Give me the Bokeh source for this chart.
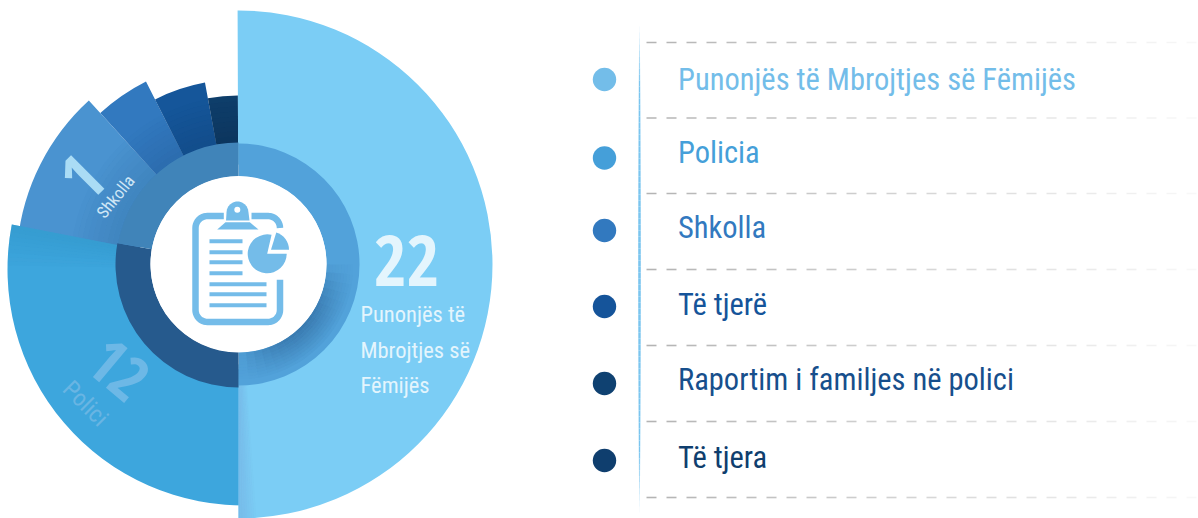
import numpy as np
from bokeh.plotting import figure
from bokeh.models import Range1d
from bokeh.core.properties import value
from bokeh.embed import file_html
from bokeh.resources import INLINE

# --- data
categories = ["Punonjës të Mbrojtjes së Fëmijës", "Policia", "Shkolla", "Të tjerë",
              "Raportim i familjes në polici", "Të tjera"]
slice_values = [22, 12.2, 4.6, 1.9, 2.0, 1.25]
slice_colors = ["#7bcdf5", "#3da6dd", "#4a93d0", "#3279bf", "#15569a", "#0f3f6c"]
shade_colors = ["#3c7fb8", "#2a68a8", "#124a86", "#0b3259"]
legend_colors = ["#73bde9", "#459fd9", "#3279bf", "#15549a", "#0f4171", "#0f3e6e"]
text_colors = ["#73bde9", "#459fd9", "#3279bf", "#15549a", "#174f8c", "#0f3e6e"]
legend_dot_y = [79, 157.5, 230, 306, 383, 460]
legend_text_y = [79, 152, 227, 304, 379, 457]
legend_rule_y = [42, 117.5, 193, 269, 345, 421, 497]
slice_radius = [254, 236, 222, 205, 185, 169]

FONT = value("Roboto Condensed")
BOLD = value("Open Sans Condensed")
CX, CY = 238, 264
deg = np.pi / 180

p = figure(width=1198, height=518, x_range=Range1d(0, 1198), y_range=Range1d(518, 0),
           output_backend="svg", toolbar_location=None, min_border=0,
           background_fill_color="white", border_fill_color="white")
p.axis.visible = False
p.grid.visible = False
p.outline_line_color = None

total = sum(slice_values)
sweeps = [v / total * 2 * np.pi for v in slice_values]
big = (-np.pi / 2, -np.pi / 2 + sweeps[0])
bounds = []
a2 = -np.pi / 2
for s in sweeps[1:]:
    bounds.append((a2 - s, a2))
    a2 -= s

# smaller slices (drawn in order, each with darkening toward the inner ring)
for i, (v0, v1) in enumerate(bounds[1:], start=2):
    extra = 4 * deg if i == 2 else 0
    p.annular_wedge(CX, CY, 100, slice_radius[i], v0, v1 + extra, color=slice_colors[i], line_color=None)
    n = 10
    step = 5
    for k in range(n):
        r0 = 118 + k * step
        p.annular_wedge(CX, CY, r0, min(r0 + step, slice_radius[i]), v0, v1 + extra, color=shade_colors[i - 2],
                        alpha=0.75 * (1 - k / n), line_color=None)

# Policy slice (slightly shifted centre, as in the picture)
PCX, PCY = 243, 269
start = 169 * deg
p.annular_wedge(PCX, PCY, 100, slice_radius[1], start, 272 * deg, color=slice_colors[1], line_color=None)
for k in range(10):
    p.annular_wedge(PCX, PCY, 100, slice_radius[1], start + k * deg, start + (k + 1) * deg,
                    color="#2f93c6", alpha=0.5 * (1 - k / 10), line_color=None)

# Big slice
p.annular_wedge(CX, CY, 100, slice_radius[0], big[0], big[1], color=slice_colors[0], line_color=None)
for k in range(8):
    p.annular_wedge(CX, CY, 100, slice_radius[0], big[0] + k * 0.5 * deg, big[0] + (k + 1) * 0.5 * deg,
                    color="#76b6e6", alpha=0.8 * (1 - k / 8), line_color=None)

# Inner ring
p.annular_wedge(CX, CY, 88, 121, -90 * deg, 90 * deg, color="#52a2da", line_color=None)
p.annular_wedge(CX, CY, 88, 123, 170 * deg, 270 * deg, color="#265a8d", line_color=None)
p.annular_wedge(CX, CY, 88, 122, 90 * deg, 170 * deg, color="#4084b9", line_color=None)

# soft shadow on the ring, lower right
for j in range(9):
    r0 = 88 + j * 3
    for m in range(18):
        t0 = -90 + m * 5
        fade = np.sin(np.pi * (m + 0.5) / 18) ** 0.8
        p.annular_wedge(CX, CY, r0, r0 + 3, t0 * deg, (t0 + 5) * deg, color="#265a8d",
                        alpha=0.55 * fade * (1 - j / 9), line_color=None)

p.circle(CX, 263.5, radius=88, color="white", line_color=None)

# Clipboard icon
ICON = "#74bce9"
def arc(cx, cy, r, t0, t1, n=12):
    t = np.radians(np.linspace(t0, t1, n))
    return list(cx + r * np.cos(t)), list(cy + r * np.sin(t))
ax1, ay1 = arc(207, 227.5, 12, 270, 180)
ax2, ay2 = arc(207, 309.5, 12, 180, 90)
ax3, ay3 = arc(267.5, 309.5, 12, 90, 0)
p.line([223.3] + ax1 + ax2 + ax3 + [279.5], [215.5] + ay1 + ay2 + ay3 + [279.3], line_color=ICON, line_width=6.5)
ax4, ay4 = arc(267.5, 227.5, 12, 270, 360)
p.line([251] + ax4, [215.5] + ay4, line_color=ICON, line_width=6.5)
dx, dy = arc(237, 212, 11, 180, 360)
p.patch([225.5] + dx + [249], [220] + dy + [220], color=ICON, line_color=None)
p.patch([225, 249.3, 258, 216.7], [221.7, 221.7, 229, 229], color=ICON, line_color=None)
p.circle(236.8, 209.3, radius=3, color="white", line_color=None)
short_y = [240.7, 251.7, 261.7, 272.7]
long_y = [283.7, 293.7, 304.7]
p.segment([209] * 4, short_y, [242] * 4, short_y, line_color=ICON, line_width=4)
p.segment([209] * 3, long_y, [266] * 3, long_y, line_color=ICON, line_width=4)
p.wedge(266.7, 253.3, 19.5, 77 * deg, 360 * deg, color=ICON, line_color=None)
p.wedge(270.5, 249.3, 18, 0 * deg, 73 * deg, color=ICON, line_color=None)

# Chart texts
def label(x, y, t, size, color, angle=0, font=FONT, align="center", style="normal"):
    p.text([x], [y], text=[t], angle=angle * deg, text_font=font, text_font_size=f"{size}px",
           text_color=color, text_align=align, text_baseline="middle", text_font_style=style)

label(406, 260, "22", 71, "#e4f5fd", font=BOLD, style="bold")
label(360, 313, "Punonjës të", 22.5, "#e4f5fd", align="left")
label(360, 349, "Mbrojtjes së", 22.5, "#e4f5fd", align="left")
label(360, 384, "Fëmijës", 22.5, "#e4f5fd", align="left")
label(81, 177, "1", 66, "#aadcf5", angle=45, font=BOLD, style="bold")
label(115, 196, "Shkolla", 17, "#cfe6f6", angle=51)
label(118, 369, "12", 62, "#6db8e6", angle=-40, font=BOLD, style="bold")
label(85, 403, "Polici", 24, "#69b5e3", angle=-45)

# Legend
p.circle([604] * 6, legend_dot_y, radius=11.7, color=legend_colors, line_color=None)
for t, y, c in zip(categories, legend_text_y, text_colors):
    label(677.5, y, t, 30.5, c, align="left")

# dashed rules fading out to the right
xs0 = np.arange(646, 1198, 20.0)
for y in legend_rule_y:
    al = np.clip(1 - (xs0 - 646) / 600, 0.06, 1)
    p.segment(xs0, [y] * len(xs0), xs0 + 10, [y] * len(xs0), line_color="#b4b4b4", line_alpha=al, line_width=1.6)

# vertical rule fading at both ends
ys = np.arange(20, 510, 6.0)
al = np.clip(np.sin(np.pi * (ys - 20) / 490) * 2.6, 0, 1)
wd = 0.6 + 2.0 * np.sin(np.pi * (ys - 20) / 490)
p.segment([639] * len(ys), ys, [639] * len(ys), ys + 6, line_color="#7ac5ef", line_alpha=al, line_width=wd)

open("out.html", "w").write(file_html(p, INLINE))
